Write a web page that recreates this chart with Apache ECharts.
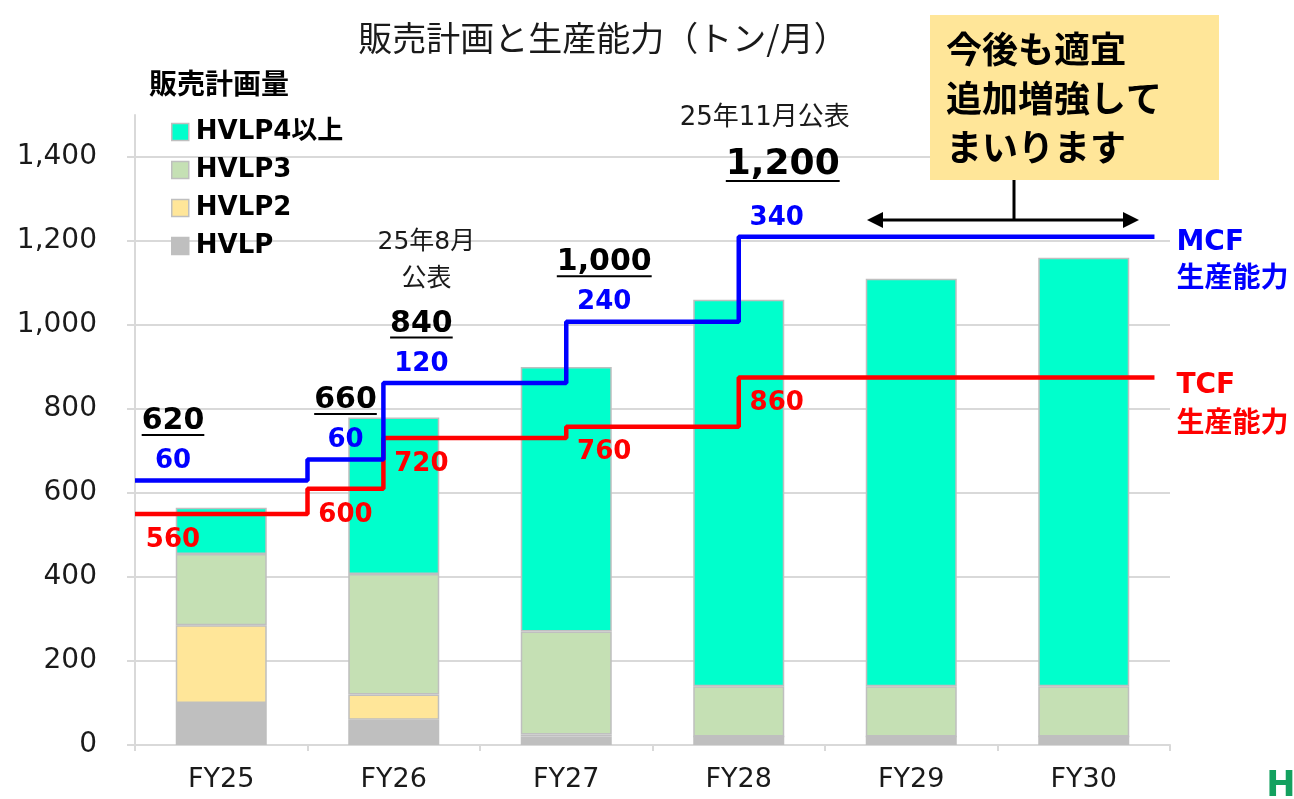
<!DOCTYPE html>
<html>
<head>
<meta charset="utf-8">
<script src="https://cdn.jsdelivr.net/npm/echarts@6/dist/echarts.min.js"></script>
<style>
  html, body { margin: 0; padding: 0; background: #fff; }
  #chart { width: 1294px; height: 799px; }
</style>
</head>
<body>
<div id="chart"></div>
<script>
const categories = ['FY25', 'FY26', 'FY27', 'FY28', 'FY29', 'FY30']
const hvlp = [100, 60, 20, 20, 20, 20]
const hvlp2 = [185, 60, 5, 0, 0, 0]
const hvlp3 = [170, 287, 245, 120, 120, 120]
const hvlp4 = [110, 373, 630, 920, 970, 1020]

// capacity steps: x in category units (FY25 = 0), each level is held until the next step
const stepX = [-0.5, 0.5, 0.94, 2, 3]
const lineEndX = 5.41
const mcfLevel = [630, 680, 862, 1008, 1210]
const tcfLevel = [550, 610, 731, 758, 875]

// numbers printed next to the steps
const capTotal = ['620', '660', '840', '1,000', '1,200']
const mcfAdd = ['60', '60', '120', '240', '340']
const tcfCap = ['560', '600', '720', '760', '860']

const latin = "'DejaVu Sans', 'Noto Sans CJK JP', sans-serif"
const jp = "'Noto Sans CJK JP', sans-serif"
const gridColor = '#d9d9d9'
const barBorder = '#bfbfbf'

function stepPoints(levels) {
  const pts = stepX.map((x, i) => [x, levels[i]])
  pts.push([lineEndX, levels[levels.length - 1]])
  return pts
}

function barSeries(name, data, color) {
  return {
    name: name,
    type: 'bar',
    stack: 'sales',
    barWidth: 91,
    itemStyle: { color: color, borderColor: barBorder, borderWidth: 1.5 },
    data: data,
  }
}

const option = {
  animation: false,
  grid: { left: 135, right: 124, top: 115, bottom: 54 },
  legend: {
    orient: 'vertical',
    left: 166,
    top: 114,
    itemWidth: 17,
    itemHeight: 17,
    itemGap: 12,
    icon: 'rect',
    selectedMode: false,
    data: ['HVLP4以上', 'HVLP3', 'HVLP2', 'HVLP'],
    itemStyle: { borderColor: barBorder, borderWidth: 1.5 },
    textStyle: {
      fontFamily: latin,
      fontWeight: 'bold',
      fontSize: 26,
      lineHeight: 25,
      color: '#000',
      padding: [0, 0, 0, 2],
    },
  },
  xAxis: [
    {
      type: 'category',
      data: categories,
      axisLine: { lineStyle: { color: gridColor, width: 2 } },
      axisTick: { show: true, length: 6, lineStyle: { color: gridColor, width: 2 } },
      axisLabel: { fontFamily: latin, fontSize: 27, color: '#1a1a1a', margin: 21 },
    },
    {
      type: 'value',
      min: -0.5,
      max: 5.5,
      show: false,
    },
  ],
  yAxis: {
    type: 'value',
    min: 0,
    max: 1500,
    interval: 200,
    axisLine: { show: true, onZero: false, lineStyle: { color: gridColor, width: 2 } },
    axisTick: { show: true, length: 8, lineStyle: { color: gridColor, width: 2 } },
    axisLabel: {
      fontFamily: latin,
      fontSize: 28,
      color: '#1a1a1a',
      margin: 38,
      showMaxLabel: false,
      formatter: (v) => (v > 1400 ? '' : v.toLocaleString('en-US')),
    },
    splitLine: { show: true, showMaxLine: false, lineStyle: { color: gridColor, width: 2 } },
  },
  series: [
    barSeries('HVLP', hvlp, '#bfbfbf'),
    barSeries('HVLP2', hvlp2, '#ffe699'),
    barSeries('HVLP3', hvlp3, '#c5e0b4'),
    barSeries('HVLP4以上', hvlp4, '#00ffcc'),
    {
      name: 'TCF',
      type: 'line',
      xAxisIndex: 1,
      step: 'end',
      symbol: 'none',
      z: 4,
      lineStyle: { color: '#ff0000', width: 4.5 },
      data: stepPoints(tcfLevel),
    },
    {
      name: 'MCF',
      type: 'line',
      xAxisIndex: 1,
      step: 'end',
      symbol: 'none',
      z: 5,
      lineStyle: { color: '#0000ff', width: 4.5 },
      data: stepPoints(mcfLevel),
    },
  ],
}

const chart = echarts.init(document.getElementById('chart'))
chart.setOption(option)

const ctx = document.createElement('canvas').getContext('2d')
function textWidth(str, size, family, weight) {
  ctx.font = weight + ' ' + size + 'px ' + family
  return ctx.measureText(str).width
}

function label(str, x, y, size, color, opts) {
  opts = opts || {}
  return {
    type: 'text',
    z: 10,
    style: {
      text: str,
      x: x,
      y: y,
      fontSize: size,
      fontFamily: opts.family || latin,
      fontWeight: opts.weight || 'bold',
      fill: color,
      align: opts.align || 'center',
      verticalAlign: 'middle',
      lineHeight: opts.lineHeight,
    },
  }
}

const toPx = (x, y) => chart.convertToPixel({ xAxisIndex: 1, yAxisIndex: 0 }, [x, y])

const elements = []

// title and legend heading
elements.push(label('販売計画と生産能力（トン/月）', 603, 38, 34, '#1a1a1a', { family: jp, weight: 'normal' }))
elements.push(label('販売計画量', 149, 83, 28, '#000', { family: jp, align: 'left' }))

// step labels
stepX.forEach((sx, i) => {
  const p = toPx(sx, mcfLevel[i])
  const ry = toPx(sx, tcfLevel[i])[1]
  const cx = p[0] + 38
  elements.push(label(mcfAdd[i], cx, p[1] - 19, 26, '#0000ff'))
  elements.push(label(tcfCap[i], cx, ry + 26, 26, '#ff0000'))

  const big = i === stepX.length - 1
  const fs = big ? 36 : 30
  const tx = big ? cx + 6 : cx
  const ty = p[1] - (big ? 72 : 59)
  elements.push(label(capTotal[i], tx, ty, fs, '#000'))
  const w = textWidth(capTotal[i], fs, latin, 'bold')
  elements.push({
    type: 'line',
    z: 10,
    shape: { x1: tx - w / 2, y1: ty + fs * 0.45, x2: tx + w / 2, y2: ty + fs * 0.45 },
    style: { stroke: '#000', lineWidth: 2 },
  })

  if (i === 2) {
    elements.push(label('25年8月\n公表', tx + 5, ty - 63, 25, '#1a1a1a', { weight: 'normal', lineHeight: 37 }))
  }
  if (big) {
    elements.push(label('25年11月公表', p[0] + 26, ty - 47, 26, '#1a1a1a', { weight: 'normal' }))
  }
})

// right-side line names
const mEnd = toPx(lineEndX, mcfLevel[mcfLevel.length - 1])
const tEnd = toPx(lineEndX, tcfLevel[tcfLevel.length - 1])
elements.push(label('MCF\n生産能力', mEnd[0] + 22, mEnd[1] + 24, 28, '#0000ff', { align: 'left', lineHeight: 37 }))
elements.push(label('TCF\n生産能力', tEnd[0] + 22, tEnd[1] + 28, 28, '#ff0000', { align: 'left', lineHeight: 39 }))

// callout box with arrow
elements.push({
  type: 'rect',
  z: 9,
  shape: { x: 930, y: 15, width: 289, height: 165 },
  style: { fill: '#ffe699' },
})
elements.push(label('今後も適宜\n追加増強して\nまいります', 946, 98, 36, '#000', { family: jp, align: 'left', lineHeight: 49 }))
elements.push({
  type: 'line',
  z: 9,
  shape: { x1: 1014, y1: 180, x2: 1014, y2: 220 },
  style: { stroke: '#000', lineWidth: 3 },
})
elements.push({
  type: 'line',
  z: 9,
  shape: { x1: 878, y1: 220, x2: 1128, y2: 220 },
  style: { stroke: '#000', lineWidth: 3 },
})
elements.push({
  type: 'polygon',
  z: 9,
  shape: { points: [[867, 220], [883, 212], [883, 228]] },
  style: { fill: '#000' },
})
elements.push({
  type: 'polygon',
  z: 9,
  shape: { points: [[1139, 220], [1123, 212], [1123, 228]] },
  style: { fill: '#000' },
})

// corner logo
elements.push(label('H', 1281, 787, 35, '#13a15f'))

chart.setOption({ graphic: elements })
</script>
</body>
</html>
